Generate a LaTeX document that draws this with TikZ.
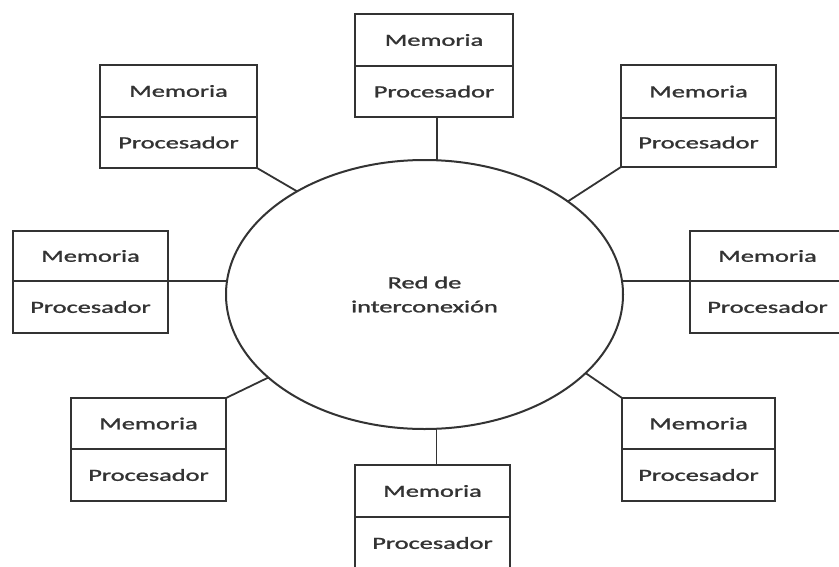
\documentclass[tikz,border=0pt]{standalone}
\usepackage{fontspec}
\usepackage{graphicx}
\usetikzlibrary{shapes.geometric}
\newfontfamily\labelfont[FakeBold=1.2]{Carlito}
% labels are set wide, as in the original drawing
\newcommand\stretchtext[1]{\scalebox{1.55}[1]{#1}}
\definecolor{ink}{HTML}{333333}
\tikzset{
  cell/.style={draw=ink, line width=2pt, minimum width=155pt, minimum height=51pt,
    inner sep=0pt, outer sep=0pt, text=ink,
    font=\labelfont\fontsize{17}{20}\selectfont},
  link/.style={draw=ink, line width=1.8pt},
  network/.style={ellipse, draw=ink, line width=2pt, minimum width=397pt,
    minimum height=269pt, inner sep=0pt, outer sep=0pt, text=ink, align=center,
    font=\labelfont\fontsize{17}{24}\selectfont}
}
\begin{document}
\begin{tikzpicture}[x=1pt, y=-1pt]
\useasboundingbox (0,0) rectangle (839,566);
\clip (0,0) rectangle (839,566);
\fill[white] (0,0) rectangle (839,566);

% interconnection network
\node[network] (net) at (424.5,294.5) {\stretchtext{Red de}\\\stretchtext{interconexión}};

% processing units: memory on top, processor below
\node[cell, minimum width=158pt, minimum height=52pt] (m1) at (434,40) {\stretchtext{Memoria}};
\node[cell, minimum width=158pt, anchor=north] (p1) at (m1.south) {\stretchtext{Procesador}};

\node[cell, minimum width=157pt, minimum height=52pt] (m2) at (178.5,91) {\stretchtext{Memoria}};
\node[cell, minimum width=157pt, anchor=north] (p2) at (m2.south) {\stretchtext{Procesador}};

\node[cell, minimum height=53pt] (m3) at (698.5,91.5) {\stretchtext{Memoria}};
\node[cell, minimum height=49pt, anchor=north] (p3) at (m3.south) {\stretchtext{Procesador}};

\node[cell, minimum height=50pt] (m4) at (90.5,256) {\stretchtext{Memoria}};
\node[cell, minimum height=52pt, anchor=north] (p4) at (m4.south) {\stretchtext{Procesador}};

\node[cell, minimum height=50pt] (m5) at (767.5,256) {\stretchtext{Memoria}};
\node[cell, minimum height=52pt, anchor=north] (p5) at (m5.south) {\stretchtext{Procesador}};

\node[cell] (m6) at (148.5,423.5) {\stretchtext{Memoria}};
\node[cell, minimum height=52pt, anchor=north] (p6) at (m6.south) {\stretchtext{Procesador}};

\node[cell, minimum width=153pt] (m7) at (698.5,423.5) {\stretchtext{Memoria}};
\node[cell, minimum width=153pt, minimum height=52pt, anchor=north] (p7) at (m7.south) {\stretchtext{Procesador}};

\node[cell, minimum height=52pt] (m8) at (432.5,491) {\stretchtext{Memoria}};
\node[cell, minimum height=52pt, anchor=north] (p8) at (m8.south) {\stretchtext{Procesador}};

% links to the network
\draw[link] ([xshift=3pt]p1.south) -- ([xshift=3pt]p1.south |- net.north);
\draw[link] (p2.south east) -- (net.141);
\draw[link] (p3.south west) -- (net.33);
\draw[link] (m4.south east) -- (m4.south east -| net.west);
\draw[link] (m5.south west) -- (m5.south west -| net.east);
\draw[link] (m6.north east) -- (net.208);
\draw[link] (m7.north west) -- (net.334);
\draw[link] ([xshift=4pt]m8.north) -- ([xshift=4pt]m8.north |- net.south);
\end{tikzpicture}
\end{document}
